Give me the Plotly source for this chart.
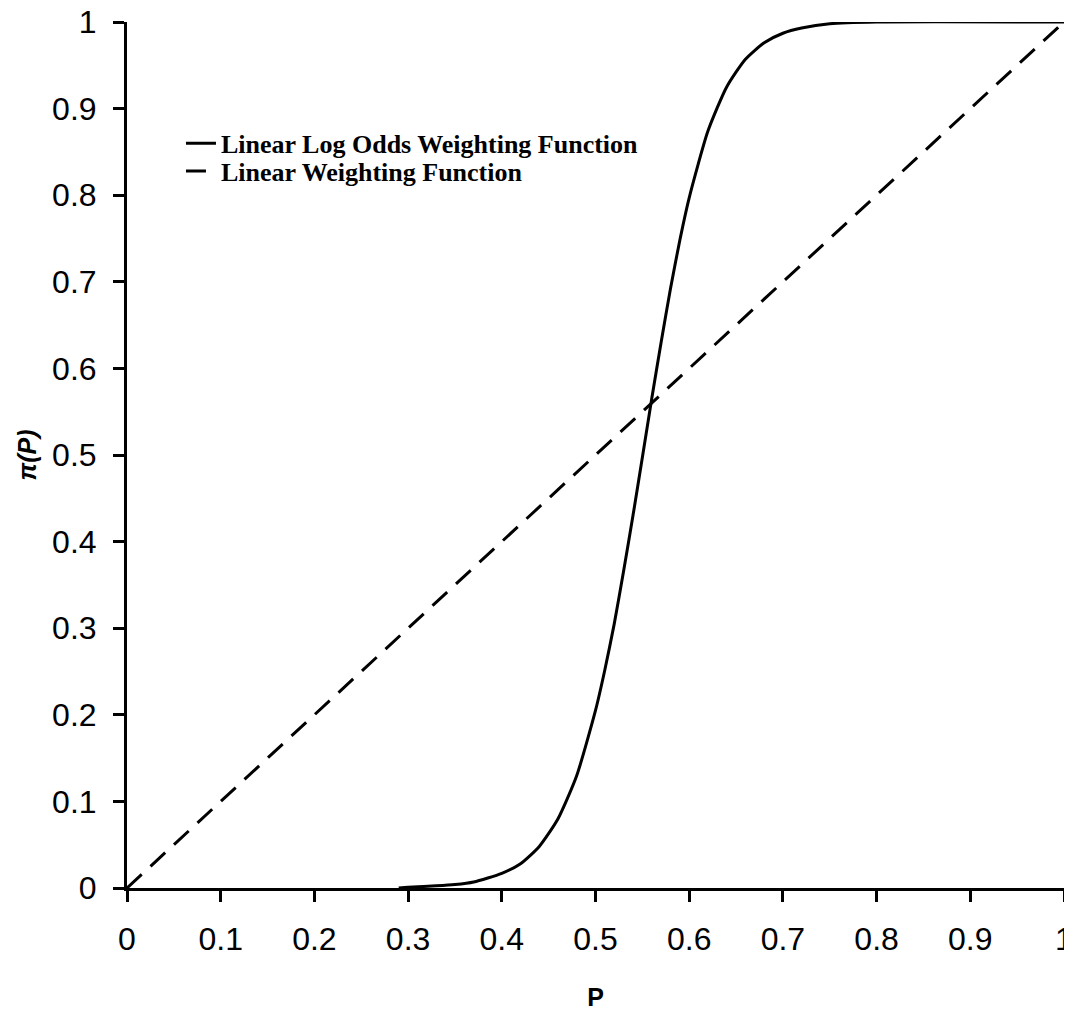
import plotly.graph_objects as go

# Linear Log Odds Weighting Function
p_llo = [0.29, 0.30, 0.33, 0.35, 0.37, 0.40, 0.42, 0.44, 0.46, 0.48, 0.50, 0.51, 0.52, 0.53,
         0.54, 0.55, 0.56, 0.57, 0.58, 0.59, 0.60, 0.62, 0.64, 0.66, 0.68, 0.70, 0.72, 0.75,
         0.80, 1.0]
w_llo = [0.0, 0.001, 0.0025, 0.004, 0.007, 0.017, 0.028, 0.048, 0.080, 0.130, 0.205, 0.252, 0.305, 0.366,
         0.430, 0.497, 0.565, 0.630, 0.692, 0.748, 0.797, 0.874, 0.925, 0.957, 0.976, 0.987, 0.993, 0.998,
         1.0, 1.0]

# Linear Weighting Function
p_lin = [0.0, 1.0]
w_lin = [0.0, 1.0]

tick_vals = [0, 0.1, 0.2, 0.3, 0.4, 0.5, 0.6, 0.7, 0.8, 0.9, 1]
tick_text = ["0", "0.1", "0.2", "0.3", "0.4", "0.5", "0.6", "0.7", "0.8", "0.9", "1"]

fig = go.Figure()
fig.add_trace(go.Scatter(x=p_llo, y=w_llo, mode="lines", name="Linear Log Odds Weighting Function",
                         line=dict(color="black", width=3, shape="spline", smoothing=0.6), legend="legend"))
fig.add_trace(go.Scatter(x=p_lin, y=w_lin, mode="lines", name="Linear Weighting Function",
                         line=dict(color="black", width=3, dash="20px,12px"), legend="legend2"))

axis_common = dict(range=[0, 1], showgrid=False, zeroline=False, showline=True, linecolor="black",
                   linewidth=3, ticks="outside", ticklen=11, tickwidth=3, tickcolor="black",
                   tickvals=tick_vals, ticktext=tick_text, automargin=False,
                   ticklabeloverflow="allow", ticklabelstandoff=10,
                   tickfont=dict(family="Liberation Sans, Arial", size=32, color="black"))

leg_font = dict(family="Liberation Serif, Times New Roman, serif", size=26, color="black", weight="bold")

fig.update_layout(
    width=1064, height=1003,
    margin=dict(l=119, r=8, t=14, b=123),
    paper_bgcolor="white", plot_bgcolor="white",
    xaxis=dict(**axis_common,
               title=dict(text="<b>P</b>", font=dict(family="Liberation Sans, Arial", size=25, color="black"),
                          standoff=33)),
    yaxis=dict(**axis_common,
               title=dict(text="<b><i>π(P)</i></b>", font=dict(family="Liberation Sans, Arial", size=25, color="black"),
                          standoff=9)),
    legend=dict(x=0.0576, y=0.887, xanchor="left", yanchor="top", bgcolor="rgba(0,0,0,0)",
                font=leg_font, itemwidth=30),
    legend2=dict(x=0.0576, y=0.855, xanchor="left", yanchor="top", bgcolor="rgba(0,0,0,0)",
                 font=leg_font, itemwidth=30),
    showlegend=True,
)

fig.write_html("out.html")
